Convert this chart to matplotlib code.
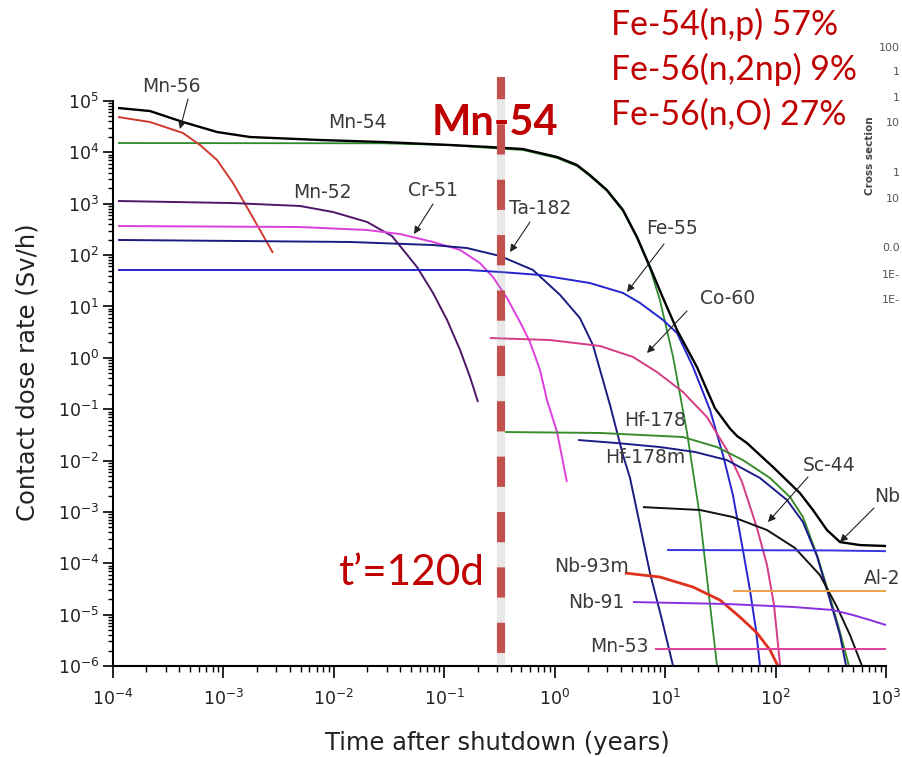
import numpy as np
import matplotlib
matplotlib.use("Agg")
import matplotlib.pyplot as plt
from matplotlib.ticker import FixedLocator, LogLocator, NullFormatter, LogFormatterSciNotation

W, H = 902, 757
plt.rcParams['font.family'] = ['DejaVu Sans']
plt.rcParams['mathtext.default'] = 'regular'

# ---------------- data (time in years, contact dose rate in Sv/h) ----------------
total_t = [1.11e-4, 2.16e-4, 4.30e-4, 8.75e-4, 1.74e-3, 7.48e-3, 2.79e-2, 0.113, 0.259, 0.516,
           1.05, 1.59, 2.08, 2.97, 4.15, 5.56, 7.29, 9.57, 12.8, 19.4, 28.2, 38.6, 44.8, 55.1,
           94.8, 166, 218, 292, 383, 582, 1000]
total_d = [7.31e4, 6.38e4, 3.90e4, 2.49e4, 1.99e4, 1.74e4, 1.59e4, 1.39e4, 1.27e4, 1.16e4,
           8.13e3, 5.68e3, 3.62e3, 1.85e3, 755, 225, 58.6, 14.6, 3.48, 0.662, 0.105, 0.042,
           0.030, 0.0219, 7.48e-3, 2.33e-3, 1.09e-3, 4.44e-4, 2.59e-4, 2.26e-4, 2.17e-4]

mn56_t = [1.11e-4, 2.16e-4, 4.30e-4, 6.14e-4, 8.75e-4, 1.22e-3, 1.63e-3, 2.14e-3, 2.81e-3]
mn56_d = [4.88e4, 3.90e4, 2.38e4, 1.39e4, 7.10e3, 2.53e3, 863, 308, 110]

mn54_t = [1.11e-4, 2.79e-2, 0.113, 0.259, 0.516, 1.05, 1.59, 2.08, 2.97, 4.15, 5.56, 7.29,
          8.97, 11.8, 15.8, 20.7, 29.5]
mn54_d = [1.52e4, 1.50e4, 1.39e4, 1.22e4, 1.11e4, 7.77e3, 5.42e3, 3.47e3, 1.77e3, 721, 215,
          56.0, 13.3, 1.04, 0.0344, 7.94e-4, 1.0e-6]

mn52_t = [1.11e-4, 1.22e-3, 4.93e-3, 9.82e-3, 2.0e-2, 3.36e-2, 5.66e-2, 7.91e-2, 0.106,
          0.139, 0.171, 0.202]
mn52_d = [1130, 1030, 904, 690, 441, 235, 58.6, 18.3, 5.45, 1.42, 0.423, 0.138]

cr51_t = [1.11e-4, 4.93e-3, 2.0e-2, 3.97e-2, 7.91e-2, 0.139, 0.210, 0.276, 0.370, 0.485,
          0.597, 0.736, 0.851, 1.05, 1.29]
cr51_d = [368, 352, 308, 257, 180, 126, 70.1, 37.4, 14.6, 4.98, 2.03, 0.579, 0.151, 0.0359,
          3.82e-3]

ta182_t = [1.11e-4, 1.40e-2, 7.91e-2, 0.161, 0.320, 0.635, 1.12, 1.69, 2.22, 3.17, 4.15,
           4.81, 7.29, 9.37, 11.8]
ta182_d = [197, 180, 157, 137, 96.0, 51.3, 16.7, 5.96, 1.77, 0.120, 0.0128, 4.57e-3,
           6.46e-5, 7.85e-6, 1.0e-6]

fe55_t = [1.11e-4, 0.161, 0.320, 0.736, 2.08, 4.15, 5.92, 9.57, 12.8, 17.9, 25.5, 33.4,
          41.1, 49.7, 58.6, 66.5, 72.3]
fe55_d = [51.3, 51.3, 46.9, 41.0, 28.6, 18.3, 11.7, 5.45, 3.04, 0.662, 0.0964, 0.0128,
          2.13e-3, 2.26e-4, 3.01e-5, 5.01e-6, 1.0e-6]

co60_t = [0.259, 0.906, 2.57, 5.12, 8.43, 14.5, 23.9, 36.3, 49.7, 67.9, 83.6, 96.8, 110]
co60_d = [2.43, 2.22, 1.70, 1.04, 0.528, 0.216, 0.0703, 0.0160, 3.82e-3, 4.85e-4, 9.25e-5,
          1.54e-5, 1.0e-6]

hf178_t = [0.355, 2.57, 14.5, 29.5, 50.7, 89.1, 135, 177, 237, 311, 383, 462]
hf178_d = [0.0359, 0.0344, 0.0287, 0.0183, 0.0102, 4.57e-3, 1.95e-3, 7.94e-4, 1.45e-4,
           2.20e-5, 4.58e-6, 1.0e-6]

hf178m_t = [1.63, 3.66, 8.97, 18.6, 36.3, 72.3, 127, 177, 237, 311, 383, 435]
hf178m_d = [0.0251, 0.0219, 0.0183, 0.0147, 0.0102, 4.57e-3, 1.70e-3, 6.35e-4, 1.38e-4,
            1.92e-5, 4.01e-6, 1.0e-6]

sc44_t = [6.30, 20.7, 41.1, 83.6, 150, 252, 360, 472, 607]
sc44_d = [1.24e-3, 1.09e-3, 7.94e-4, 4.44e-4, 1.98e-4, 5.90e-5, 1.41e-5, 4.01e-6, 1.0e-6]

nb94_t = [10.4, 300, 1000]
nb94_d = [1.81e-4, 1.78e-4, 1.72e-4]

al26_t = [41.1, 1000]
al26_d = [2.9e-5, 2.9e-5]

nb93m_t = [4.32, 8.97, 17.9, 31.4, 47.6, 67.9, 89.1, 105]
nb93m_d = [6.46e-5, 5.40e-5, 3.44e-5, 1.92e-5, 8.97e-6, 4.39e-6, 2.05e-6, 1.0e-6]

nb91_t = [5.12, 36.3, 144, 331, 502, 716, 1000]
nb91_d = [1.76e-5, 1.61e-5, 1.41e-5, 1.23e-5, 9.82e-6, 7.85e-6, 6.27e-6]

mn53_t = [8.09, 1000]
mn53_d = [2.14e-6, 2.14e-6]

t_prime = 120 / 365.0  # years

x_decades = [1e-4, 1e-3, 1e-2, 1e-1, 1e0, 1e1, 1e2, 1e3]
y_decades = [1e-6, 1e-5, 1e-4, 1e-3, 1e-2, 1e-1, 1e0, 1e1, 1e2, 1e3, 1e4, 1e5]

reaction_lines = ["Fe-54(n,p) 57%", "Fe-56(n,2np) 9%", "Fe-56(n,O) 27%"]

# ---------------- figure ----------------
fig = plt.figure(figsize=(W / 100, H / 100), dpi=100)
ax = fig.add_axes([113 / W, 1 - 666 / H, 773 / W, 565 / H])
ax.set_xscale('log')
ax.set_yscale('log')
ax.set_xlim(1e-4, 1e3)
ax.set_ylim(1e-6, 1e5)

series = [
    (mn54_t, mn54_d, '#2e8b2e', 1.3),
    (mn56_t, mn56_d, '#d0382e', 1.4),
    (mn52_t, mn52_d, '#4e1666', 1.4),
    (cr51_t, cr51_d, '#dd3fdd', 1.4),
    (ta182_t, ta182_d, '#1c1c80', 1.4),
    (fe55_t, fe55_d, '#2525d0', 1.4),
    (co60_t, co60_d, '#d43c86', 1.4),
    (hf178_t, hf178_d, '#3a8c2c', 1.4),
    (hf178m_t, hf178m_d, '#1c1c8a', 1.4),
    (sc44_t, sc44_d, '#111111', 1.4),
    (nb94_t, nb94_d, '#3434e0', 1.4),
    (al26_t, al26_d, '#e8a24a', 1.4),
    (nb93m_t, nb93m_d, '#e0301e', 2.0),
    (nb91_t, nb91_d, '#8a30e0', 1.4),
    (mn53_t, mn53_d, '#e0409c', 1.4),
    (total_t, total_d, '#000000', 1.7),
]
for t, d, c, lw in series:
    ax.plot(t, d, color=c, lw=lw, solid_capstyle='butt', solid_joinstyle='round')

# axes styling
for s in ['top', 'right']:
    ax.spines[s].set_visible(False)
for s in ['left', 'bottom']:
    ax.spines[s].set_linewidth(1.5)
ax.xaxis.set_major_locator(FixedLocator(x_decades))
ax.yaxis.set_major_locator(FixedLocator(y_decades))
ax.xaxis.set_minor_locator(LogLocator(base=10, subs=np.arange(2, 10), numticks=200))
ax.yaxis.set_minor_locator(LogLocator(base=10, subs=np.arange(2, 10), numticks=200))
ax.xaxis.set_minor_formatter(NullFormatter())
ax.yaxis.set_minor_formatter(NullFormatter())
ax.xaxis.set_major_formatter(LogFormatterSciNotation())
ax.yaxis.set_major_formatter(LogFormatterSciNotation())
ax.tick_params(axis='x', which='major', direction='out', length=8.5, width=1.2,
               labelsize=12.5, pad=8, labelcolor='#222222')
ax.tick_params(axis='x', which='minor', direction='out', length=4.5, width=1.0)
ax.tick_params(axis='y', which='major', direction='out', length=7, width=1.2,
               labelsize=12.5, pad=3, labelcolor='#222222')
ax.tick_params(axis='y', which='minor', direction='out', length=3.5, width=1.0)

ax.set_xlabel('Time after shutdown (years)', fontsize=17.5, color='#222222')
ax.set_ylabel('Contact dose rate (Sv/h)', fontsize=17.5, color='#222222')
ax.xaxis.label.set_va('center')
ax.yaxis.label.set_va('center')
ax.xaxis.set_label_coords((497 - 113) / 773, (666 - 743) / 565)
ax.yaxis.set_label_coords((27 - 113) / 773, (666 - 372) / 565)


def fx(x):
    return x / W


def fy(y):
    return 1 - y / H


# isotope labels
lab_kw = dict(fontsize=13.5, color='#3a3a3a', transform=fig.transFigure, zorder=6)
labels = [
    ("Mn-56", 171, 87), ("Mn-54", 357, 122), ("Mn-52", 322, 192), ("Cr-51", 433, 190),
    ("Ta-182", 540, 209), ("Fe-55", 672, 228), ("Co-60", 728, 298), ("Hf-178", 655, 420),
    ("Hf-178m", 645, 458), ("Sc-44", 829, 465), ("Nb-93m", 591, 567), ("Nb-91", 596, 603),
    ("Mn-53", 619, 647),
]
for txt, x, y in labels:
    ax.text(fx(x), fy(y), txt, ha='center', va='center', **lab_kw)
ax.text(fx(900), fy(497), "Nb", ha='right', va='center', **lab_kw)
ax.text(fx(900), fy(578), "Al-2", ha='right', va='center', **lab_kw)

arrows = [
    ((188, 99), (180, 129)), ((433, 204), (414, 234)), ((530, 222), (510, 252)),
    ((664, 244), (627, 292)), ((687, 311), (647, 353)), ((808, 477), (768, 522)),
    ((874, 508), (840, 542)),
]
for (x0, y0), (x1, y1) in arrows:
    ax.annotate('', xy=(fx(x1), fy(y1)), xytext=(fx(x0), fy(y0)),
                xycoords='figure fraction', textcoords='figure fraction',
                arrowprops=dict(arrowstyle='-|>', color='#222222', lw=0.8,
                                mutation_scale=11, shrinkA=0, shrinkB=0), zorder=6)

# vertical t' line with soft shadow
ytop = 10 ** (5 + (101 - 77) / 51.36)
ax.plot([t_prime, t_prime], [ytop, 1e-6], color='#9a9a9a', lw=6.0, alpha=0.22,
        clip_on=False, zorder=7, solid_capstyle='butt')
ax.plot([t_prime, t_prime], [ytop, 1e-6], color='#C4504E', lw=5.8,
        linestyle=(1.0, (3.75, 3.125)), dash_capstyle='butt', clip_on=False, zorder=8)

# red annotation texts
red = '#C00000'
ax.text(fx(432), fy(135), "Mn-54", fontsize=30, fontweight='bold', color=red,
        family=['Lato', 'DejaVu Sans'], ha='left', va='baseline',
        transform=fig.transFigure, zorder=7.5)
ax.text(fx(338), fy(585), "t\u2019=120d", fontsize=30.5, color=red,
        family=['Lato', 'DejaVu Sans'], ha='left', va='baseline',
        transform=fig.transFigure, zorder=7.5)
for i, line in enumerate(reaction_lines):
    ax.text(fx(611), fy(35 + 45 * i), line, fontsize=24.3, color=red,
            family=['Lato', 'DejaVu Sans'], ha='left', va='baseline',
            transform=fig.transFigure, zorder=9)

# partial inset on the right edge (cropped in the reference)
inset_kw = dict(fontsize=8, color='#555555', ha='right', va='center', transform=fig.transFigure)
inset_labels = [("100", 900, 48), ("1", 900, 72), ("1", 900, 98), ("10", 900, 123),
                ("1", 900, 173), ("10", 900, 199), ("0.0", 900, 248), ("1E-", 900, 275),
                ("1E-", 900, 300)]
for txt, x, y in inset_labels:
    fig.text(fx(x), fy(y), txt, **inset_kw)
fig.text(fx(870), fy(156), "Cross section", rotation=90, fontsize=7.5, fontweight='bold',
         color='#444444', ha='center', va='center')

fig.savefig('out.png', dpi=100)
